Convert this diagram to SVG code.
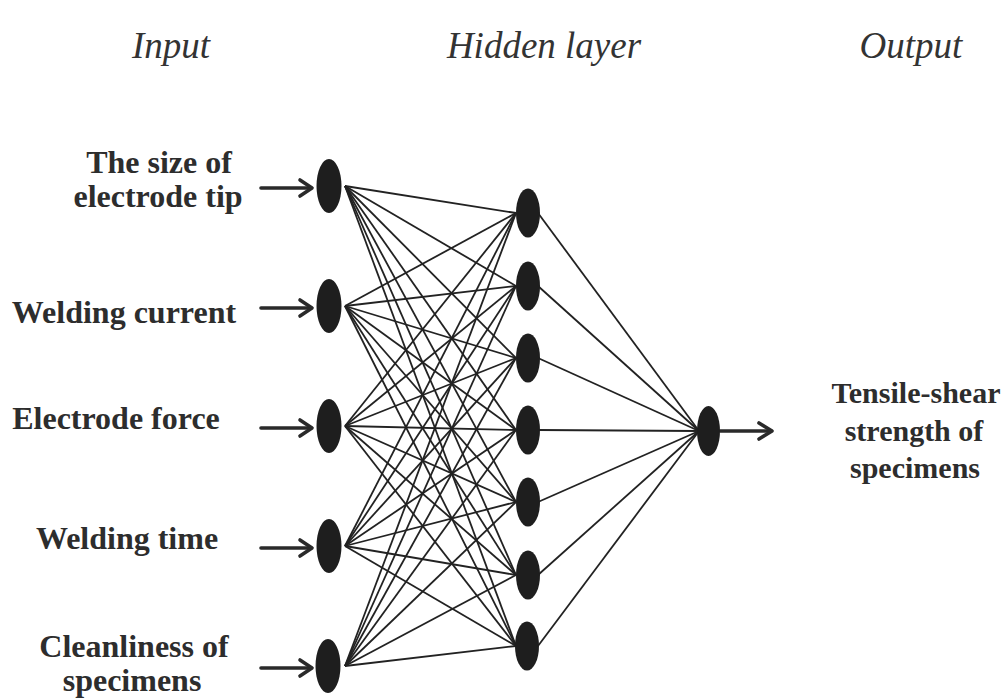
<svg xmlns="http://www.w3.org/2000/svg" width="1006" height="698" viewBox="0 0 1006 698">
<style>
.title{font-family:"Liberation Serif",serif;font-style:italic;font-size:37px;fill:#333;text-anchor:middle}
.lbl{font-family:"Liberation Serif",serif;font-weight:bold;font-size:32px;fill:#2d2d2d;text-anchor:middle}
.out{font-family:"Liberation Serif",serif;font-weight:bold;font-size:30px;fill:#2d2d2d;text-anchor:middle}
.node{fill:#1e1e1e}
.edge{stroke:#222;stroke-width:1.8;fill:none}
.arr{stroke:#2a2a2a;stroke-width:3.6;fill:none;stroke-linecap:round;stroke-linejoin:round}
</style>
<rect width="1006" height="698" fill="#fff"/>
<g id="titles">
<text class="title" x="171" y="58">Input</text>
<text class="title" x="544" y="58">Hidden layer</text>
<text class="title" x="911" y="58">Output</text>
</g>
<g id="connectors">
<g class="edge">
<line x1="345" y1="186" x2="516" y2="213"/><line x1="345" y1="186" x2="516" y2="286"/><line x1="345" y1="186" x2="516" y2="358"/><line x1="345" y1="186" x2="516" y2="430"/><line x1="345" y1="186" x2="516" y2="502"/><line x1="345" y1="186" x2="516" y2="575"/><line x1="345" y1="186" x2="516" y2="646"/>
<line x1="345" y1="306" x2="516" y2="213"/><line x1="345" y1="306" x2="516" y2="286"/><line x1="345" y1="306" x2="516" y2="358"/><line x1="345" y1="306" x2="516" y2="430"/><line x1="345" y1="306" x2="516" y2="502"/><line x1="345" y1="306" x2="516" y2="575"/><line x1="345" y1="306" x2="516" y2="646"/>
<line x1="345" y1="426" x2="516" y2="213"/><line x1="345" y1="426" x2="516" y2="286"/><line x1="345" y1="426" x2="516" y2="358"/><line x1="345" y1="426" x2="516" y2="430"/><line x1="345" y1="426" x2="516" y2="502"/><line x1="345" y1="426" x2="516" y2="575"/><line x1="345" y1="426" x2="516" y2="646"/>
<line x1="345" y1="546" x2="516" y2="213"/><line x1="345" y1="546" x2="516" y2="286"/><line x1="345" y1="546" x2="516" y2="358"/><line x1="345" y1="546" x2="516" y2="430"/><line x1="345" y1="546" x2="516" y2="502"/><line x1="345" y1="546" x2="516" y2="575"/><line x1="345" y1="546" x2="516" y2="646"/>
<line x1="345" y1="666" x2="516" y2="213"/><line x1="345" y1="666" x2="516" y2="286"/><line x1="345" y1="666" x2="516" y2="358"/><line x1="345" y1="666" x2="516" y2="430"/><line x1="345" y1="666" x2="516" y2="502"/><line x1="345" y1="666" x2="516" y2="575"/><line x1="345" y1="666" x2="516" y2="646"/>
<line x1="538" y1="213" x2="699" y2="431"/><line x1="538" y1="286" x2="699" y2="431"/><line x1="538" y1="358" x2="699" y2="431"/><line x1="538" y1="430" x2="699" y2="431"/><line x1="538" y1="502" x2="699" y2="431"/><line x1="538" y1="575" x2="699" y2="431"/><line x1="538" y1="646" x2="699" y2="431"/>
</g>
<g class="arr">
<line x1="261" y1="188" x2="311" y2="188"/><polyline points="300,180 312,188 300,196"/>
<line x1="261" y1="308" x2="311" y2="308"/><polyline points="300,300 312,308 300,316"/>
<line x1="261" y1="428" x2="311" y2="428"/><polyline points="300,420 312,428 300,436"/>
<line x1="261" y1="548" x2="311" y2="548"/><polyline points="300,540 312,548 300,556"/>
<line x1="261" y1="668" x2="311" y2="668"/><polyline points="300,660 312,668 300,676"/>
<line x1="720" y1="431" x2="771" y2="431"/><polyline points="759,423 772,431 759,439"/>
</g>
</g>
<g id="in1"><ellipse class="node" cx="329" cy="186" rx="12.5" ry="27"/><text class="lbl" x="159" y="173">The size of</text><text class="lbl" x="158" y="207">electrode tip</text></g>
<g id="in2"><ellipse class="node" cx="329" cy="306" rx="12.5" ry="27"/><text class="lbl" x="124" y="323">Welding current</text></g>
<g id="in3"><ellipse class="node" cx="329" cy="426" rx="12.5" ry="27"/><text class="lbl" x="116" y="429">Electrode force</text></g>
<g id="in4"><ellipse class="node" cx="329" cy="546" rx="12.5" ry="27"/><text class="lbl" x="127" y="549">Welding time</text></g>
<g id="in5"><ellipse class="node" cx="328" cy="666" rx="12.5" ry="27"/><text class="lbl" x="134" y="657">Cleanliness of</text><text class="lbl" x="132" y="691">specimens</text></g>
<g id="h1"><ellipse class="node" cx="528" cy="213" rx="12" ry="24.5"/></g>
<g id="h2"><ellipse class="node" cx="528" cy="286" rx="12" ry="24.5"/></g>
<g id="h3"><ellipse class="node" cx="528" cy="358" rx="12" ry="24.5"/></g>
<g id="h4"><ellipse class="node" cx="528" cy="430" rx="12" ry="24.5"/></g>
<g id="h5"><ellipse class="node" cx="528" cy="502" rx="12" ry="24.5"/></g>
<g id="h6"><ellipse class="node" cx="528" cy="575" rx="12" ry="24.5"/></g>
<g id="h7"><ellipse class="node" cx="527" cy="646" rx="12" ry="24.5"/></g>
<g id="out"><ellipse class="node" cx="708.5" cy="431" rx="11.5" ry="25"/><text class="out" x="916" y="403">Tensile-shear</text><text class="out" x="914" y="441">strength of</text><text class="out" x="915" y="478">specimens</text></g>
</svg>
